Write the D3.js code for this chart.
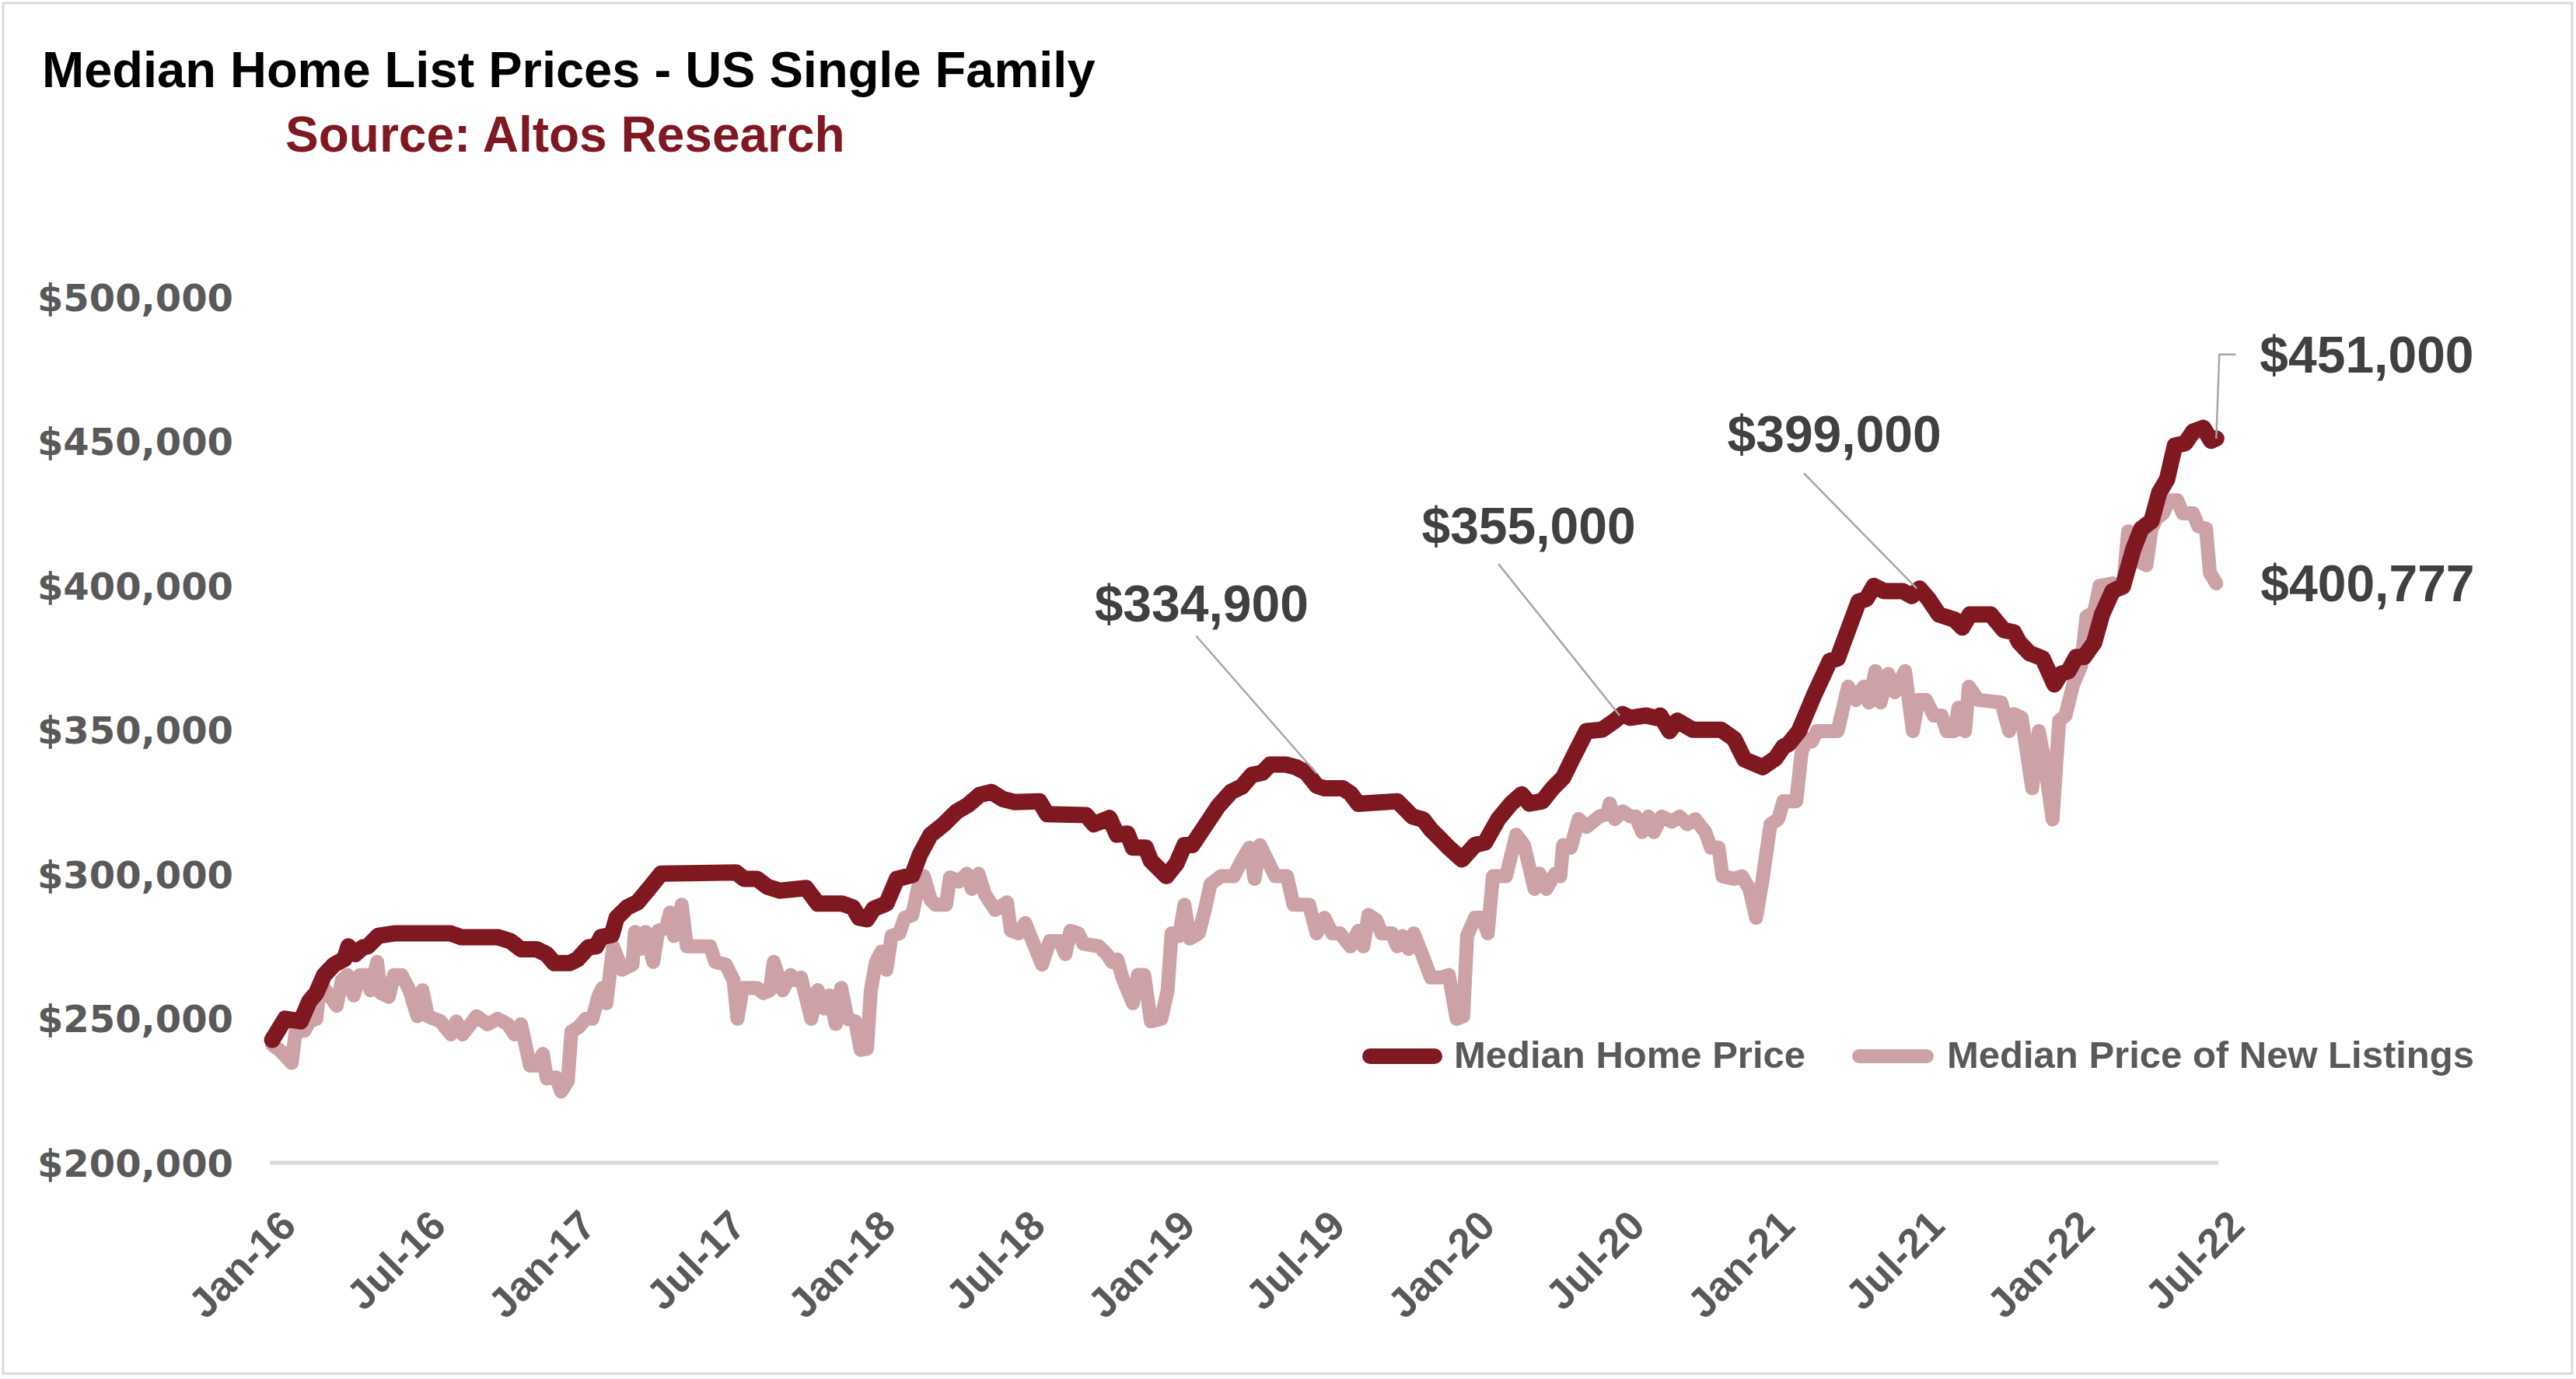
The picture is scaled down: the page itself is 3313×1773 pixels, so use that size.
<!DOCTYPE html>
<html><head><meta charset="utf-8">
<script src="https://cdn.jsdelivr.net/npm/d3@7"></script>
<style>html,body{margin:0;padding:0;background:#fff;} svg{display:block;}</style>
</head><body>
<svg id="chart" width="3313" height="1773"></svg>
<script>
// ---------- DATA ----------
const titleText = "Median Home List Prices - US Single Family";
const sourceText = "Source: Altos Research";
const seriesNames = ["Median Home Price", "Median Price of New Listings"];

// x positions are dates as decimal years; values in thousands of dollars
const xTickValues = [2016, 2016.5, 2017, 2017.5, 2018, 2018.5, 2019, 2019.5, 2020, 2020.5, 2021, 2021.5, 2022, 2022.5];
const xTickLabels = ["Jan-16","Jul-16","Jan-17","Jul-17","Jan-18","Jul-18","Jan-19","Jul-19","Jan-20","Jul-20","Jan-21","Jul-21","Jan-22","Jul-22"];
const yTickValuesK = [200, 250, 300, 350, 400, 450, 500];

const homeDates = [2016.008,2016.051,2016.103,2016.132,2016.155,2016.181,2016.215,2016.249,2016.262,2016.285,
2016.311,2016.327,2016.362,2016.414,2016.604,2016.638,2016.760,2016.803,2016.838,2016.890,
2016.923,2016.949,2017.001,2017.027,2017.063,2017.089,2017.105,2017.141,2017.157,2017.192,
2017.227,2017.270,2017.305,2017.556,2017.582,2017.625,2017.659,2017.702,2017.789,2017.828,
2017.910,2017.945,2017.966,2017.992,2018.014,2018.057,2018.092,2018.143,2018.169,2018.204,
2018.247,2018.291,2018.329,2018.368,2018.407,2018.446,2018.485,2018.567,2018.593,2018.723,
2018.749,2018.801,2018.826,2018.861,2018.879,2018.922,2018.939,2018.991,2019.025,2019.051,
2019.077,2019.112,2019.164,2019.207,2019.242,2019.276,2019.311,2019.337,2019.389,2019.423,
2019.458,2019.492,2019.518,2019.579,2019.605,2019.631,2019.761,2019.787,2019.812,2019.847,
2019.873,2019.899,2019.933,2019.977,2020.020,2020.054,2020.098,2020.141,2020.176,2020.202,
2020.245,2020.279,2020.314,2020.348,2020.392,2020.444,2020.487,2020.513,2020.539,2020.591,
2020.625,2020.638,2020.669,2020.695,2020.746,2020.841,2020.885,2020.919,2020.980,2021.023,
2021.049,2021.066,2021.101,2021.152,2021.204,2021.230,2021.300,2021.326,2021.351,2021.386,
2021.447,2021.477,2021.503,2021.533,2021.568,2021.620,2021.646,2021.671,2021.741,2021.784,
2021.818,2021.836,2021.870,2021.914,2021.953,2021.974,2022.000,2022.026,2022.052,2022.086,
2022.112,2022.147,2022.182,2022.216,2022.243,2022.277,2022.303,2022.329,2022.355,2022.390,
2022.416,2022.450,2022.476,2022.493];
const homePriceK = [242.6,249.9,249.0,256.0,258.8,265.0,268.7,270.6,275.0,272.3,
274.7,275.0,278.7,279.5,279.5,278.2,278.2,276.8,274.0,274.0,
272.3,269.2,269.2,270.6,274.7,275.0,278.2,279.0,284.9,288.5,
290.3,295.7,300.2,300.6,298.4,298.4,295.7,294.3,295.2,289.8,
289.8,288.5,284.9,284.4,288.0,289.8,298.4,299.7,306.9,313.6,
317.2,321.7,324.0,327.5,328.5,326.0,325.0,325.3,320.8,320.5,
317.3,319.5,313.7,314.1,309.2,309.2,304.7,299.3,303.8,310.1,
310.1,315.5,323.6,328.6,330.3,334.4,335.2,338.0,338.0,337.1,
335.2,330.7,329.8,329.8,328.0,324.4,325.3,322.6,320.0,319.0,
315.5,312.8,309.2,305.1,310.1,311.0,319.1,324.5,327.7,324.5,
325.3,329.8,333.4,340.6,349.6,350.1,353.2,355.5,354.2,355.0,
354.2,355.0,349.6,353.2,350.1,350.1,346.9,339.8,337.1,340.2,
344.2,345.1,349.6,362.2,373.9,374.8,394.5,395.4,399.9,398.1,
398.1,396.4,399.0,395.4,390.0,388.2,385.5,390.0,390.0,384.6,
383.8,380.3,376.6,374.8,365.8,369.4,370.4,375.3,375.3,380.3,
390.0,398.1,399.9,412.5,419.7,422.4,432.3,436.8,448.5,449.4,
453.4,454.7,450.2,451.0];

const newDates = [2016.008,2016.034,2016.073,2016.086,2016.116,2016.132,2016.155,2016.163,2016.181,2016.223,
2016.241,2016.259,2016.280,2016.301,2016.323,2016.336,2016.358,2016.371,2016.397,2016.414,
2016.440,2016.466,2016.492,2016.509,2016.527,2016.570,2016.604,2016.622,2016.643,2016.690,
2016.726,2016.760,2016.794,2016.816,2016.838,2016.868,2016.890,2016.911,2016.924,2016.955,
2016.972,2016.994,2017.006,2017.032,2017.054,2017.076,2017.097,2017.110,2017.123,2017.145,
2017.175,2017.210,2017.218,2017.236,2017.253,2017.279,2017.296,2017.322,2017.335,2017.348,
2017.374,2017.391,2017.469,2017.486,2017.521,2017.547,2017.560,2017.577,2017.625,2017.646,
2017.668,2017.681,2017.711,2017.737,2017.754,2017.772,2017.806,2017.828,2017.850,2017.867,
2017.888,2017.906,2017.927,2017.953,2017.971,2017.992,2018.005,2018.022,2018.040,2018.057,
2018.074,2018.100,2018.118,2018.143,2018.165,2018.182,2018.204,2018.221,2018.256,2018.269,
2018.299,2018.325,2018.342,2018.364,2018.386,2018.420,2018.459,2018.472,2018.498,2018.520,
2018.576,2018.602,2018.636,2018.654,2018.671,2018.697,2018.714,2018.766,2018.792,2018.809,
2018.827,2018.844,2018.879,2018.896,2018.917,2018.939,2018.974,2018.995,2019.008,2019.034,
2019.051,2019.069,2019.099,2019.121,2019.138,2019.173,2019.216,2019.242,2019.268,2019.285,
2019.303,2019.320,2019.354,2019.393,2019.415,2019.467,2019.492,2019.518,2019.544,2019.570,
2019.605,2019.631,2019.648,2019.665,2019.691,2019.709,2019.743,2019.761,2019.778,2019.799,
2019.816,2019.847,2019.873,2019.907,2019.933,2019.959,2019.981,2019.994,2020.020,2020.046,
2020.063,2020.080,2020.124,2020.158,2020.184,2020.219,2020.236,2020.258,2020.288,2020.305,
2020.314,2020.340,2020.366,2020.392,2020.435,2020.461,2020.470,2020.487,2020.513,2020.539,
2020.556,2020.578,2020.599,2020.617,2020.643,2020.677,2020.703,2020.729,2020.755,2020.789,
2020.807,2020.833,2020.846,2020.885,2020.911,2020.936,2020.958,2020.980,2021.006,2021.032,
2021.049,2021.092,2021.110,2021.127,2021.144,2021.161,2021.230,2021.265,2021.291,2021.317,
2021.334,2021.356,2021.373,2021.399,2021.421,2021.455,2021.481,2021.499,2021.525,2021.551,
2021.577,2021.594,2021.620,2021.633,2021.655,2021.668,2021.698,2021.776,2021.802,2021.818,
2021.844,2021.879,2021.901,2021.921,2021.947,2021.969,2021.990,2022.016,2022.042,2022.060,
2022.086,2022.104,2022.147,2022.182,2022.199,2022.225,2022.260,2022.277,2022.294,2022.316,
2022.337,2022.363,2022.381,2022.416,2022.433,2022.459,2022.472,2022.493];
const newPriceK = [240.9,239.0,234.6,245.4,245.8,249.0,249.9,257.0,260.6,254.4,
263.3,265.1,258.0,265.0,265.0,259.8,269.6,258.8,257.5,265.0,
265.0,259.8,250.8,259.8,250.8,249.0,244.5,249.0,244.5,250.8,
248.0,249.9,248.0,244.5,248.0,233.7,233.7,237.7,229.2,229.6,
224.7,228.3,245.4,247.2,249.9,249.9,258.0,260.6,255.3,275.0,
266.9,268.7,280.0,274.1,280.0,269.6,280.4,281.4,286.7,278.6,
289.4,275.0,275.0,269.6,268.7,263.3,249.9,260.6,260.6,258.8,
259.8,269.6,259.8,265.1,263.3,264.2,249.9,259.8,253.5,258.0,
248.1,260.6,249.9,249.0,239.1,239.5,259.8,269.6,273.2,266.9,
278.6,279.5,284.9,285.8,296.6,299.3,291.2,289.4,289.4,298.9,
297.5,300.2,294.9,300.2,293.0,287.6,290.3,280.5,279.5,283.1,
268.7,276.8,276.8,272.3,280.4,279.5,275.9,275.0,272.3,269.6,
270.5,264.2,255.3,265.1,265.1,249.0,249.9,259.8,279.5,278.6,
289.4,277.7,279.5,288.5,296.6,299.3,299.3,304.7,309.2,298.4,
310.1,306.5,299.3,299.3,289.4,289.4,279.5,284.9,279.5,279.5,
275.0,280.4,275.0,285.9,284.1,279.5,279.5,275.0,278.6,274.1,
279.5,271.4,264.2,264.2,265.1,249.9,250.8,278.6,284.9,284.9,
279.5,299.3,299.3,313.7,310.1,294.9,300.2,294.9,300.2,299.3,
310.1,309.2,319.1,316.4,320.0,320.9,324.5,319.1,321.8,320.0,
320.0,314.6,320.0,314.6,320.0,318.2,320.0,317.3,319.1,314.6,
309.2,309.2,299.3,298.4,299.3,294.9,284.9,298.4,317.3,319.1,
325.3,325.3,342.4,346.9,346.0,349.6,349.6,365.0,360.4,365.0,
359.5,370.4,359.5,369.4,363.1,370.4,349.6,360.4,360.4,355.0,
355.0,349.6,349.6,357.7,349.6,365.0,360.4,359.5,349.6,355.5,
354.2,329.8,349.6,338.8,319.0,353.2,355.0,365.8,372.1,389.2,
391.0,399.9,400.8,399.0,418.8,408.9,407.1,419.7,423.3,425.1,
429.6,429.6,425.1,425.1,420.6,419.7,404.4,400.8];

// callouts: label text, target date, target value (thousands)
const calloutLabels = ["$334,900", "$355,000", "$399,000", "$451,000", "$400,777"];
const calloutDates  = [2019.492, 2020.503, 2021.494, 2022.493, 2022.493];
const calloutValuesK = [334.9, 355.0, 399.0, 451.0, 400.8];

// ---------- LAYOUT ----------
const C = { dark: "#7f1820", pink: "#cda2a7", axisText: "#595959", callText: "#404040", leader: "#a6a6a6", grid: "#d9d9d9" };
const FONT = "'Liberation Sans', Arial, sans-serif";
const calloutLayout = [
  { anchor: "middle", dx: -148, dy: -196, leader: [[-155, -177], [0, 0]] },
  { anchor: "middle", dx: -117, dy: -221, leader: [[-156, -195], [0, 0]] },
  { anchor: "middle", dx: -106, dy: -176, leader: [[-145, -148], [0, 0]] },
  { anchor: "start",  dx: 56,   dy: -85,  leader: [[25, -108], [4, -108], [0, 0]] },
  { anchor: "start",  dx: 57,   dy: 23,   leader: null }
];

const svg = d3.select("#chart");
const x = d3.scaleLinear().domain([2016, 2022.5]).range([347, 2853]);
const y = d3.scaleLinear().domain([200, 500]).range([1495, 382]);

// outer frame
svg.append("rect").attr("x", 0).attr("y", 0).attr("width", 3313).attr("height", 1773).attr("fill", "#fff");
svg.append("rect").attr("x", 4).attr("y", 4).attr("width", 3304).attr("height", 1762)
  .attr("fill", "none").attr("stroke", C.grid).attr("stroke-width", 3);

// title
svg.append("text").attr("x", 54).attr("y", 112).text(titleText)
  .attr("font-family", FONT).attr("font-weight", "bold").attr("font-size", 65).attr("fill", "#000");
svg.append("text").attr("x", 367).attr("y", 195).text(sourceText)
  .attr("font-family", FONT).attr("font-weight", "bold").attr("font-size", 64).attr("fill", C.dark);

// base gridline
svg.append("line").attr("x1", x(2016)).attr("x2", x(2022.5)).attr("y1", y(200)).attr("y2", y(200))
  .attr("stroke", C.grid).attr("stroke-width", 5);

// y axis
const gy = svg.append("g").attr("transform", "translate(300,0)")
  .call(d3.axisLeft(y).tickValues(yTickValuesK).tickSize(0).tickPadding(0)
    .tickFormat(d => "$" + d3.format(",")(d * 1000)));
gy.select(".domain").remove();
gy.selectAll("text").attr("font-family", "'DejaVu Sans', sans-serif").attr("font-weight", "bold")
  .attr("font-size", 48).attr("fill", C.axisText).attr("x", 0).attr("dy", "0.36em");

// x axis
const gx = svg.append("g").attr("transform", `translate(0,${y(200)})`)
  .call(d3.axisBottom(x).tickValues(xTickValues).tickSize(0).tickFormat((d, i) => xTickLabels[i]));
gx.select(".domain").remove();
gx.selectAll("text").attr("y", 0).attr("dy", 0).attr("text-anchor", "end")
  .attr("transform", "translate(36,84) rotate(-45)")
  .attr("font-family", FONT).attr("font-weight", "bold").attr("font-size", 53).attr("fill", C.axisText);

// series
const line = d3.line().x(d => x(d[0])).y(d => y(d[1])).curve(d3.curveLinear);
svg.append("path").datum(d3.zip(newDates, newPriceK)).attr("d", line)
  .attr("fill", "none").attr("stroke", C.pink).attr("stroke-width", 18)
  .attr("stroke-linejoin", "round").attr("stroke-linecap", "round");
svg.append("path").datum(d3.zip(homeDates, homePriceK)).attr("d", line)
  .attr("fill", "none").attr("stroke", C.dark).attr("stroke-width", 21)
  .attr("stroke-linejoin", "round").attr("stroke-linecap", "round");

// callouts
calloutLabels.forEach((lab, i) => {
  const px = x(calloutDates[i]), py = y(calloutValuesK[i]);
  const L = calloutLayout[i];
  if (L.leader) {
    svg.append("path").attr("d", d3.line()(L.leader.map(p => [px + p[0], py + p[1]])))
      .attr("fill", "none").attr("stroke", C.leader).attr("stroke-width", 2.5);
  }
  svg.append("text").attr("x", px + L.dx).attr("y", py + L.dy).attr("text-anchor", L.anchor).text(lab)
    .attr("font-family", FONT).attr("font-weight", "bold").attr("font-size", 66).attr("fill", C.callText);
});

// legend
const legendItems = [
  { name: seriesNames[0], color: C.dark, w: 20, x0: 1762, x1: 1845, tx: 1870 },
  { name: seriesNames[1], color: C.pink, w: 18, x0: 2391, x1: 2478, tx: 2504 }
];
const lg = svg.append("g");
legendItems.forEach(it => {
  lg.append("line").attr("x1", it.x0).attr("x2", it.x1).attr("y1", 1358).attr("y2", 1358)
    .attr("stroke", it.color).attr("stroke-width", it.w).attr("stroke-linecap", "round");
  lg.append("text").attr("x", it.tx).attr("y", 1373).text(it.name)
    .attr("font-family", FONT).attr("font-weight", "bold").attr("font-size", 49).attr("fill", C.axisText);
});
</script>
</body></html>
